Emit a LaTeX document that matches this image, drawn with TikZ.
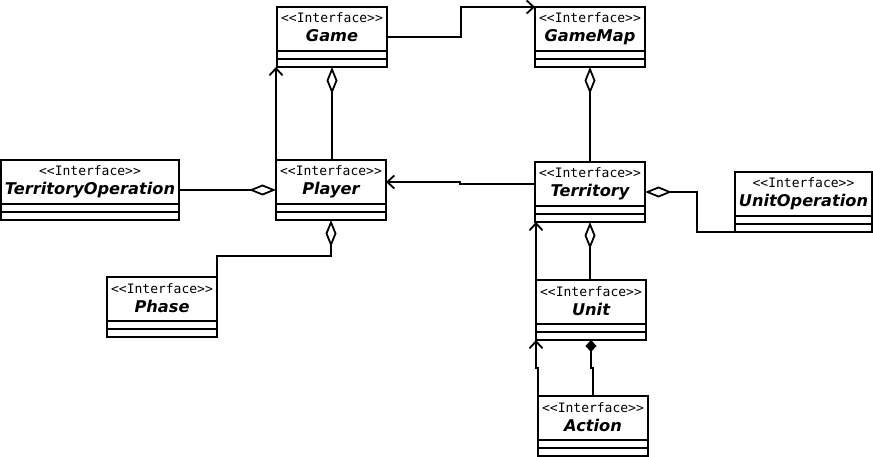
\documentclass[tikz,border=0pt]{standalone}
\usepackage{fontspec}
\usetikzlibrary{positioning, arrows.meta}

\newfontfamily\stereofont{DejaVu Sans Mono}
\newfontfamily\namefont{DejaVu Sans}
\newcommand{\stereo}{{\stereofont\rule{0pt}{11pt}<{}<Interface>{}>}}
\newcommand{\cname}[1]{{\namefont\bfseries\itshape\fontsize{16.2}{19}\selectfont\rule[-4pt]{0pt}{4pt}#1}}

\tikzset{
  iface/.style={draw, rectangle, line width=1.9pt, outer sep=0pt, inner sep=0pt,
    minimum width=#1, minimum height=44pt, align=center, anchor=north west,
    font=\fontsize{13}{19}\selectfont},
  slot/.style={draw, rectangle, line width=1.9pt, outer sep=0pt, inner sep=0pt,
    minimum width=#1, minimum height=8pt},
  assoc/.style={line width=1.8pt, -{Straight Barb[length=7pt,width=13pt]}},
  aggr/.style={line width=1.8pt, {Diamond[open,length=27pt,width=11pt]}-},
  comp/.style={line width=1.8pt, {Diamond[length=12pt,width=11pt]}-},
}

\begin{document}
\begin{tikzpicture}[x=1pt, y=-1pt]
\useasboundingbox (0,0) rectangle (873,457);

\node[iface=110pt] (game) at (277,7) {\stereo\\\cname{Game}};
\node[slot=110pt, below=0pt of game] (game-attr) {};
\node[slot=110pt, below=0pt of game-attr] (game-meth) {};

\node[iface=110pt] (gamemap) at (535,7) {\stereo\\\cname{GameMap}};
\node[slot=110pt, below=0pt of gamemap] (gamemap-attr) {};
\node[slot=110pt, below=0pt of gamemap-attr] (gamemap-meth) {};

\node[iface=178pt] (terrop) at (1,160) {\stereo\\\cname{TerritoryOperation}};
\node[slot=178pt, below=0pt of terrop] (terrop-attr) {};
\node[slot=178pt, below=0pt of terrop-attr] (terrop-meth) {};

\node[iface=110pt] (player) at (276,160) {\stereo\\\cname{Player}};
\node[slot=110pt, below=0pt of player] (player-attr) {};
\node[slot=110pt, below=0pt of player-attr] (player-meth) {};

\node[iface=110pt] (territory) at (535,162) {\stereo\\\cname{Territory}};
\node[slot=110pt, below=0pt of territory] (territory-attr) {};
\node[slot=110pt, below=0pt of territory-attr] (territory-meth) {};

\node[iface=137pt] (unitop) at (735,172) {\stereo\\\cname{UnitOperation}};
\node[slot=137pt, below=0pt of unitop] (unitop-attr) {};
\node[slot=137pt, below=0pt of unitop-attr] (unitop-meth) {};

\node[iface=110pt] (phase) at (107,277) {\stereo\\\cname{Phase}};
\node[slot=110pt, below=0pt of phase] (phase-attr) {};
\node[slot=110pt, below=0pt of phase-attr] (phase-meth) {};

\node[iface=110pt] (unit) at (536,280) {\stereo\\\cname{Unit}};
\node[slot=110pt, below=0pt of unit] (unit-attr) {};
\node[slot=110pt, below=0pt of unit-attr] (unit-meth) {};

\node[iface=110pt] (action) at (538,396) {\stereo\\\cname{Action}};
\node[slot=110pt, below=0pt of action] (action-attr) {};
\node[slot=110pt, below=0pt of action-attr] (action-meth) {};

\draw[assoc] ([yshift=-8pt]game.east) -- ++(74,0) |- (gamemap.north west);
\draw[assoc] (player.north west) -- (player.north west |- game-meth.south);
\draw[aggr] (game-meth.south) -- (game-meth.south |- player.north);
\draw[aggr] (gamemap-meth.south) -- (territory.north);
\draw[assoc] (territory.west) -- ++(-75,0) |- (player.east);
\draw[aggr] ([yshift=-8pt]player.west) -- ([yshift=-8pt]terrop.east);
\draw[aggr] (player-meth.south) -- ++(0,36) -| (phase.north east);
\draw[aggr] ([yshift=-8pt]territory.east) -- ++(52,0) |- (unitop-meth.south west);
\draw[assoc] (unit.north west) -- (unit.north west |- territory-meth.south);
\draw[aggr] (territory-meth.south) -- (territory-meth.south |- unit.north);
\draw[assoc] (action.north west) -- ++(0,-28) -| (unit-meth.south west);
\draw[comp] (unit-meth.south) -- ++(0,28) -| (action.north);
\end{tikzpicture}
\end{document}
